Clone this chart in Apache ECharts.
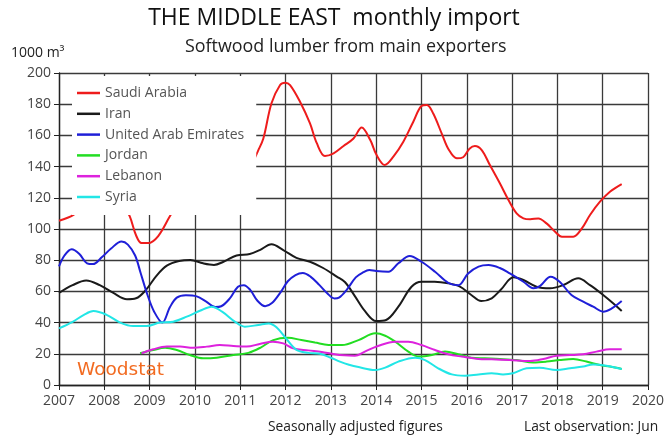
<!DOCTYPE html>
<html><head><meta charset="utf-8">
<script src="https://cdn.jsdelivr.net/npm/echarts@6/dist/echarts.min.js"></script>
<style>html,body{margin:0;padding:0;background:#fff}#c{width:668px;height:437px}</style>
</head><body><div id="c"></div>
<script>
const seriesNames = ["Saudi Arabia","Iran","United Arab Emirates","Jordan","Lebanon","Syria"];
const yearTicks = [2007,2008,2009,2010,2011,2012,2013,2014,2015,2016,2017,2018,2019,2020];

// [decimal year, 1000 m3]
const saudiArabia = [[2007.0,105.3],[2007.32,109],[2007.6,116],[2007.9,120],[2008.2,121],[2008.4,116],[2008.56,108.3],[2008.7,96],[2008.82,91],[2008.97,91],[2009.19,95.5],[2009.45,108.3],[2009.7,120],[2010.0,128],[2010.5,132],[2011.0,136],[2011.25,142],
[2011.4,150.6],[2011.51,158],[2011.69,180.6],[2011.88,192.3],[2011.99,193.8],[2012.1,192.3],[2012.32,181.6],[2012.54,167.7],[2012.69,155],[2012.87,146.8],[2013.06,148.5],[2013.28,153.2],[2013.5,158],[2013.68,165],[2013.87,157],[2014.01,147.4],[2014.19,141],[2014.38,146.4],[2014.6,156],[2014.82,168.8],[2015.0,178.8],[2015.12,179.5],[2015.26,174],[2015.45,161],[2015.6,151],[2015.78,145.3],[2015.92,146],[2016.06,151.5],[2016.18,153.2],[2016.33,150.6],[2016.51,141],[2016.73,129.3],[2016.92,118.6],[2017.1,110],[2017.25,106.8],[2017.4,106.2],[2017.58,106.8],[2017.76,103.6],[2017.95,98.3],[2018.1,95.1],[2018.35,95.1],[2018.54,100.4],[2018.72,109],[2018.94,117.5],[2019.16,123.9],[2019.42,128.8]];

const iran = [[2007.0,59],[2007.3,64],[2007.6,67],[2007.9,64],[2008.2,59],[2008.5,55],[2008.7,55.6],[2008.92,61],[2009.15,70],[2009.38,76.5],[2009.65,79.5],[2009.9,80.2],[2010.18,78],[2010.42,77],[2010.63,79],[2010.92,83],[2011.21,84],[2011.43,86.5],[2011.69,90.2],[2011.95,86.5],[2012.24,81.5],[2012.54,79],[2012.83,75],[2013.13,69.5],[2013.31,66],[2013.53,57],[2013.75,47.5],[2014.0,41],[2014.22,41.7],[2014.49,50.2],[2014.78,63],[2015.0,66.2],[2015.29,66.2],[2015.59,65.2],[2015.85,63],[2016.1,57.7],[2016.32,53.8],[2016.55,55.6],[2016.75,61],[2017.03,69],[2017.25,67.3],[2017.54,63],[2017.84,62],[2018.13,64.1],[2018.46,68.4],[2018.72,64],[2019.01,57.7],[2019.23,52.4],[2019.42,47.4]];

const uae = [[2007.0,76],[2007.12,83],[2007.28,87],[2007.45,84],[2007.62,78],[2007.75,77.5],[2007.95,82],[2008.15,87.5],[2008.38,92],[2008.52,90],[2008.68,83],[2008.8,72],[2008.95,58],[2009.1,47],[2009.28,40],[2009.45,50],[2009.6,56],[2009.8,57.5],[2010.04,56.8],[2010.25,53.5],[2010.45,50],[2010.58,50.5],[2010.77,55.5],[2010.95,63],[2011.08,64],[2011.22,61],[2011.38,54],[2011.55,50.5],[2011.7,52.5],[2011.88,59],[2012.05,66.5],[2012.22,70.5],[2012.38,71.8],[2012.55,69.5],[2012.75,64],[2012.92,58.8],[2013.08,55.5],[2013.18,56],[2013.35,61],[2013.55,69],[2013.7,72],[2013.85,73.7],[2014.0,73],[2014.27,72.6],[2014.49,78],[2014.74,82.7],[2015.0,79],[2015.3,72.6],[2015.59,65.5],[2015.81,64],[2016.03,71.5],[2016.26,75.9],[2016.48,76.9],[2016.73,75],[2016.95,71.5],[2017.25,66.2],[2017.47,62],[2017.62,63.5],[2017.85,69.4],[2018.05,66.2],[2018.31,57.7],[2018.57,53.4],[2018.79,50.2],[2019.01,47],[2019.2,49.1],[2019.42,53.8]];

const jordan = [[2008.79,20.3],[2009.08,22.4],[2009.34,23.9],[2009.6,22.4],[2009.89,19.2],[2010.18,17.1],[2010.48,17.5],[2010.85,19.2],[2011.18,20.6],[2011.45,24],[2011.73,28.8],[2012.05,30.3],[2012.35,28.8],[2012.65,27.2],[2012.95,25.7],[2013.25,25.6],[2013.61,28.8],[2013.98,33.1],[2014.2,31.6],[2014.42,27.8],[2014.71,21.4],[2014.94,18.2],[2015.23,19.2],[2015.52,21.4],[2015.81,19.7],[2016.1,17.5],[2016.4,17.1],[2016.73,16.7],[2017.1,16],[2017.47,14.5],[2017.76,15],[2018.05,16],[2018.35,16.7],[2018.64,15],[2018.94,12.8],[2019.16,11.8],[2019.42,10.3]];

const lebanon = [[2008.82,20.3],[2009.08,22.9],[2009.38,24.6],[2009.67,24.6],[2009.96,23.9],[2010.26,24.6],[2010.55,25.6],[2010.85,25],[2011.14,24.6],[2011.43,26.3],[2011.72,27.8],[2011.95,26.7],[2012.17,23.5],[2012.5,22.2],[2012.8,21.2],[2013.05,19.9],[2013.3,19],[2013.53,18.8],[2013.75,21.4],[2014.04,25],[2014.42,27.8],[2014.71,27.8],[2015.0,25.6],[2015.3,22.4],[2015.59,19.7],[2015.89,18.2],[2016.26,16.7],[2016.55,16.5],[2016.95,16],[2017.4,15.4],[2017.69,16.7],[2017.98,18.8],[2018.28,19.2],[2018.57,19.7],[2018.86,21.4],[2019.16,22.9],[2019.42,22.9]];

const syria = [[2007.0,36.3],[2007.3,40.5],[2007.55,45],[2007.76,47.4],[2008.05,45],[2008.35,40],[2008.64,37.8],[2008.93,37.8],[2009.23,40],[2009.52,40.6],[2009.82,43.8],[2010.11,47.6],[2010.37,50.2],[2010.6,47],[2010.88,40.6],[2011.1,37.4],[2011.4,38.5],[2011.63,39.5],[2011.8,37],[2012.02,29.5],[2012.24,22.5],[2012.5,20.6],[2012.76,20],[2013.0,17.5],[2013.2,15],[2013.4,13],[2013.61,11.5],[2013.98,9.6],[2014.2,11.1],[2014.49,15],[2014.86,17.5],[2015.08,16],[2015.37,10.7],[2015.67,6.8],[2015.96,6],[2016.26,6.8],[2016.55,7.5],[2016.8,6.8],[2017.02,7.5],[2017.32,10.7],[2017.61,11.1],[2017.98,9.6],[2018.28,10.7],[2018.57,11.8],[2018.79,13.2],[2019.08,12.4],[2019.42,10.3]];

const seriesData = [saudiArabia, iran, uae, jordan, lebanon, syria];
const seriesColors = ["#ee1c1c","#1a1a1a","#1f1fd8","#22dd22","#dd22dd","#22e6e6"];

const FONT = "Open Sans";
const chart = echarts.init(document.getElementById('c'), null, {renderer:'canvas'});
chart.setOption({
  animation:false,
  backgroundColor:'#fff',
  textStyle:{fontFamily:FONT},
  title:[
    {text:'THE MIDDLE EAST  monthly import', left:'center', top:2, textStyle:{fontFamily:FONT, fontSize:23, fontWeight:'normal', color:'#111'}},
    {text:'Softwood lumber from main exporters', left:180, top:33, textStyle:{fontFamily:FONT, fontSize:17.9, fontWeight:'normal', color:'#222'}},
    {text:'1000 m³', left:6, top:41, textStyle:{fontFamily:FONT, fontSize:14, fontWeight:'normal', color:'#222'}},
    {text:'Seasonally adjusted figures', left:263, top:415, textStyle:{fontFamily:FONT, fontSize:13.8, fontWeight:'normal', color:'#222'}},
    {text:'Last observation: Jun', left:519, top:415, textStyle:{fontFamily:FONT, fontSize:13.8, fontWeight:'normal', color:'#222'}},
    {text:'Woodstat', left:72, top:356, textStyle:{fontFamily:'DejaVu Sans', fontSize:18.5, fontWeight:'normal', color:'#f26b21'}}
  ],
  grid:{left:59, right:20, top:73, bottom:52},
  legend:{
    orient:'vertical', left:72, top:76,
    padding:[9.5,12,10.5,5],
    backgroundColor:'#fff', borderWidth:0,
    icon:'rect',
    itemWidth:23, itemHeight:2.5, itemGap:5.8,
    textStyle:{fontFamily:FONT, fontSize:14, lineHeight:15, color:'#555'},
    data:seriesNames
  },
  xAxis:{
    type:'value', min:yearTicks[0], max:yearTicks[yearTicks.length-1], interval:1,
    axisLine:{lineStyle:{color:'#222', width:1.3}},
    axisTick:{show:true, length:5, lineStyle:{color:'#222'}},
    axisLabel:{formatter:v=>String(v), fontFamily:FONT, fontSize:14, color:'#444', margin:9},
    splitLine:{show:true, lineStyle:{color:'#3a3a3a', width:1.3}}
  },
  yAxis:{
    type:'value', min:0, max:200, interval:20,
    axisLine:{show:true, lineStyle:{color:'#222', width:1.3}},
    axisTick:{show:true, length:5, lineStyle:{color:'#222'}},
    axisLabel:{fontFamily:FONT, fontSize:14, color:'#444', margin:8},
    splitLine:{show:true, lineStyle:{color:'#3a3a3a', width:1.3}}
  },
  series: seriesNames.map((n,i)=>({
    name:n, type:'line', data:seriesData[i], symbol:'none', smooth:0.35,
    lineStyle:{color:seriesColors[i], width:2}, itemStyle:{color:seriesColors[i]}
  }))
});
</script></body></html>
